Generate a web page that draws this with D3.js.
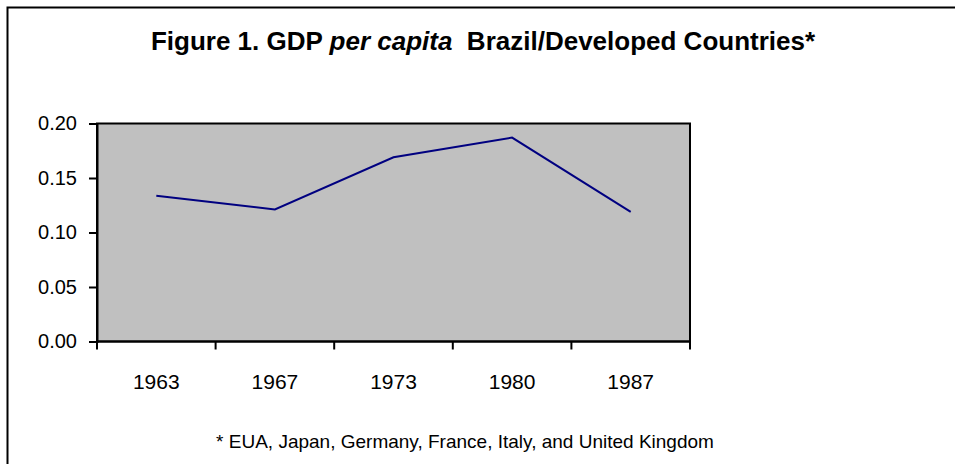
<!DOCTYPE html>
<html>
<head>
<meta charset="utf-8">
<script src="https://cdn.jsdelivr.net/npm/d3@7"></script>
<style>
  body { margin: 0; background: #fff; }
  svg { display: block; font-family: "Liberation Sans", Arial, sans-serif; }
</style>
</head>
<body>
<div id="chart"></div>
<script>
var years = ["1963", "1967", "1973", "1980", "1987"];
var ratio = [0.1337, 0.1212, 0.169, 0.1871, 0.119];
var yTicks = [0, 0.05, 0.10, 0.15, 0.20];

var W = 955, H = 464;
var svg = d3.select("#chart").append("svg")
    .attr("width", W)
    .attr("height", H);

// outer chart border (runs off the right and bottom edges)
svg.append("rect")
    .attr("x", 7.5).attr("y", 7.5)
    .attr("width", W + 20).attr("height", H + 20)
    .attr("fill", "#fff")
    .attr("stroke", "#000")
    .attr("stroke-width", 2);

var plot = { left: 97, top: 123.5, right: 690, bottom: 341.5 };

var x = d3.scaleBand()
    .domain(years)
    .range([plot.left, plot.right]);

var y = d3.scaleLinear()
    .domain([0, 0.2])
    .range([plot.bottom, plot.top]);

// grey plot area
svg.append("rect")
    .attr("x", plot.left).attr("y", plot.top)
    .attr("width", plot.right - plot.left)
    .attr("height", plot.bottom - plot.top)
    .attr("fill", "#c0c0c0")
    .attr("stroke", "#000")
    .attr("stroke-width", 2);

// y axis
var yAxis = svg.append("g")
    .attr("transform", "translate(" + plot.left + ",0)")
    .call(d3.axisLeft(y).tickValues(yTicks).tickFormat(d3.format(".2f")).tickSize(8).tickPadding(12));
yAxis.select(".domain").attr("stroke-width", 2);
yAxis.selectAll(".tick line").attr("stroke-width", 2);
yAxis.selectAll("text")
    .attr("font-size", 20)
    .attr("font-family", "Liberation Sans, Arial, sans-serif")
    .attr("fill", "#000");

// x axis: ticks sit between categories
var xAxisG = svg.append("g")
    .attr("transform", "translate(0," + plot.bottom + ")");
xAxisG.append("line")
    .attr("x1", plot.left).attr("x2", plot.right)
    .attr("stroke", "#000").attr("stroke-width", 2);
var edges = years.map(function(d) { return x(d); }).concat([plot.right]);
xAxisG.selectAll(".xtick")
    .data(edges)
    .enter().append("line")
    .attr("class", "xtick")
    .attr("x1", function(d) { return d; })
    .attr("x2", function(d) { return d; })
    .attr("y1", 0).attr("y2", 8)
    .attr("stroke", "#000").attr("stroke-width", 2);
xAxisG.selectAll(".xlabel")
    .data(years)
    .enter().append("text")
    .attr("class", "xlabel")
    .attr("x", function(d) { return x(d) + x.bandwidth() / 2; })
    .attr("y", 47)
    .attr("text-anchor", "middle")
    .attr("font-size", 21)
    .text(function(d) { return d; });

// the series
var line = d3.line()
    .x(function(d, i) { return x(years[i]) + x.bandwidth() / 2; })
    .y(function(d) { return y(d); });

svg.append("path")
    .datum(ratio)
    .attr("d", line)
    .attr("fill", "none")
    .attr("stroke", "#000080")
    .attr("stroke-width", 2);

// title
var title = svg.append("text")
    .attr("x", 483)
    .attr("y", 50)
    .attr("text-anchor", "middle")
    .attr("font-size", 26)
    .attr("font-weight", "bold")
    .attr("xml:space", "preserve");
title.append("tspan").text("Figure 1. GDP ");
title.append("tspan").attr("font-style", "italic").text("per capita");
title.append("tspan").text("  Brazil/Developed Countries*");

// footnote
svg.append("text")
    .attr("x", 465)
    .attr("y", 448)
    .attr("text-anchor", "middle")
    .attr("font-size", 19)
    .text("* EUA, Japan, Germany, France, Italy, and United Kingdom");
</script>
</body>
</html>
